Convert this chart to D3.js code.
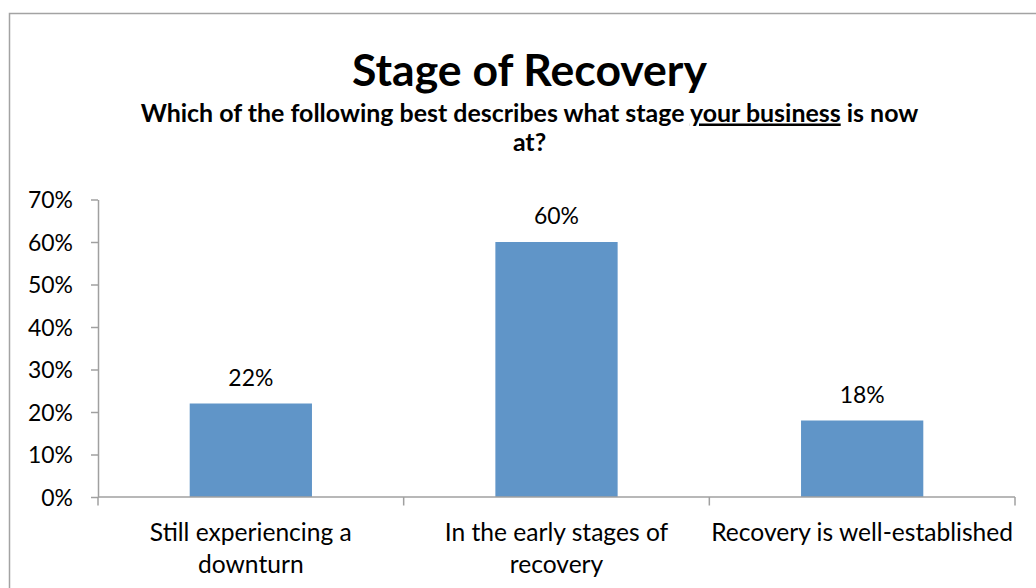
<!DOCTYPE html>
<html>
<head>
<meta charset="utf-8">
<script src="https://cdn.jsdelivr.net/npm/d3@7"></script>
<style>
  body { margin: 0; background: #fff; }
  svg text { font-family: Lato, "Open Sans", sans-serif; fill: #000; }
</style>
</head>
<body>
<div id="chart"></div>
<script>
// data
var categories = [["Still experiencing a", "downturn"], ["In the early stages of", "recovery"], ["Recovery is well-established"]];
var values = [0.22, 0.60, 0.18];
var yTicks = [0, 0.1, 0.2, 0.3, 0.4, 0.5, 0.6, 0.7];

var svgwidth = 1036, svgheight = 588;
var margin = {top: 199.5, left: 98, right: 21, bottom: 91};

var svg = d3.select("#chart").append("svg").attr("width", svgwidth).attr("height", svgheight);

// outer frame (runs off the right and bottom)
svg.append("rect").attr("x", 9.5).attr("y", 13.5).attr("width", 1100).attr("height", 700)
  .attr("fill", "none").attr("stroke", "#a3a3a3").attr("stroke-width", 1.5);

// shrink/grow font so text spans a given width, returns the size
function fit(sel, w) {
  var fs = parseFloat(sel.attr("font-size"));
  var len = sel.node().getComputedTextLength();
  var nf = +(fs * w / len).toFixed(2);
  sel.attr("font-size", nf);
  return nf;
}

var x = d3.scaleBand().domain(d3.range(values.length)).range([margin.left, svgwidth - margin.right])
  .paddingInner(0.6).paddingOuter(0.3);
var y = d3.scaleLinear().domain([0, 0.7]).range([svgheight - margin.bottom, margin.top]);

// titles
var cx = 529.5;
svg.append("text").attr("x", cx).attr("y", 86).attr("text-anchor", "middle").attr("font-weight", "bold")
  .attr("font-size", 40).text("Stage of Recovery").call(fit, 355);
var sub = svg.append("text").attr("x", cx).attr("y", 121.5).attr("text-anchor", "middle")
  .attr("font-weight", "bold").attr("font-size", 20);
sub.append("tspan").text("Which of the following best describes what stage ");
sub.append("tspan").attr("text-decoration", "underline").text("your business");
sub.append("tspan").text(" is now");
sub.call(fit, 778);
svg.append("text").attr("x", cx).attr("y", 151).attr("text-anchor", "middle").attr("font-weight", "bold")
  .attr("font-size", sub.attr("font-size")).text("at?");

// bars
svg.selectAll(".bar").data(values).enter().append("rect")
  .attr("x", (d, i) => x(i)).attr("width", x.bandwidth())
  .attr("y", d => y(d)).attr("height", d => y(0) - y(d))
  .attr("fill", "#6095c8");

// value labels
var lbls = svg.selectAll(".lbl").data(values).enter().append("text")
  .attr("x", (d, i) => x(i) + x.bandwidth() / 2).attr("y", d => y(d) - 18)
  .attr("text-anchor", "middle").attr("font-size", 20)
  .text(d3.format(".0%"));
var numSize = fit(d3.select(lbls.nodes()[0]), 45);
lbls.attr("font-size", numSize);

// y axis
var yAxis = svg.append("g").attr("transform", `translate(${margin.left},0)`)
  .call(d3.axisLeft(y).tickValues(yTicks).tickFormat(d3.format(".0%")).tickSize(7).tickSizeOuter(0).tickPadding(18));
yAxis.selectAll("path, line").attr("stroke", "#a0a0a0").attr("stroke-width", 1.5);
yAxis.selectAll("text").attr("font-size", numSize).attr("font-family", "Lato, sans-serif").attr("fill", "#000").attr("dy", "0.36em");

// x axis
var xEdges = d3.range(values.length + 1).map(function(i) { return margin.left + i * x.step(); });
var xAxis = svg.append("g");
xAxis.append("line").attr("x1", margin.left).attr("x2", svgwidth - margin.right)
  .attr("y1", y(0)).attr("y2", y(0)).attr("stroke", "#a0a0a0").attr("stroke-width", 1.5);
xAxis.selectAll(".tk").data(xEdges).enter().append("line")
  .attr("x1", d => d).attr("x2", d => d).attr("y1", y(0)).attr("y2", y(0) + 8.5)
  .attr("stroke", "#a0a0a0").attr("stroke-width", 1.5);

// category labels
var probe = svg.append("text").attr("font-size", 22).text(categories[2][0]);
var catSize = fit(probe, 302);
probe.remove();
categories.forEach(function(lines, i) {
  var t = svg.append("text").attr("x", x(i) + x.bandwidth() / 2).attr("text-anchor", "middle").attr("font-size", catSize);
  lines.forEach(function(l, j) {
    t.append("tspan").attr("x", x(i) + x.bandwidth() / 2).attr("y", 540.5 + j * 32).text(l);
  });
});
</script>
</body>
</html>
